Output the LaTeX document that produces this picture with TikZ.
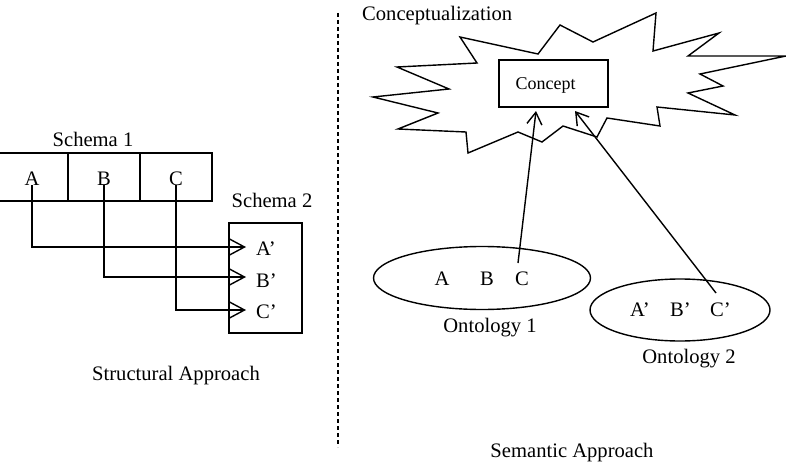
\documentclass[tikz,border=0pt]{standalone}
\usepackage{fontspec}
\setmainfont{Liberation Serif}
\usetikzlibrary{arrows.meta,shapes.geometric}
\tikzset{
  lbl/.style={inner sep=0pt, anchor=base, font=\fontsize{20.6}{24}\selectfont},
  lblw/.style={lbl, anchor=base west},
  ln/.style={line width=1.4pt, line join=miter},
  sarr/.style={ln, -{Straight Barb[length=15pt,width=16pt,line width=1.4pt]}},
  carr/.style={ln, -{Straight Barb[length=12pt,width=15pt,line width=1.4pt]}},
  boxn/.style={draw, line width=1.4pt, inner sep=0pt, rectangle},
  ell/.style={draw, line width=1.4pt, ellipse, inner sep=0pt},
}
\begin{document}
\begin{tikzpicture}[x=1pt,y=-1pt]
\useasboundingbox (0,0) rectangle (786,468);
% ---------- Structural approach ----------
\node[lbl] (s1) at (93,146) {Schema 1};
\draw[ln] (-3,153) rectangle (212,201);
\draw[ln] (68,153) -- (68,201);
\draw[ln] (140,153) -- (140,201);
\node[lbl] (A) at (32,185) {A};
\node[lbl] (B) at (104,185) {B};
\node[lbl] (C) at (176,185) {C};
\node[lbl] (s2) at (272,207) {Schema 2};
\node[boxn, minimum width=73pt, minimum height=110pt] (sch2) at (265.5,278) {};
\node[lblw] (Ap) at (256,255) {A’};
\node[lblw] (Bp) at (256,287) {B’};
\node[lblw] (Cp) at (256,318) {C’};
\coordinate (tA) at (246,247);
\coordinate (tB) at (246,277);
\coordinate (tC) at (246,310);
\draw[sarr] (A.base) |- (tA);
\draw[sarr] (B.base) |- (tB);
\draw[sarr] (C.base) |- (tC);
\node[lbl] (sa) at (176,380) {Structural Approach};
% ---------- divider ----------
\draw[line width=1.4pt, dash pattern=on 4pt off 3pt] (338,13) -- (338,447);
% ---------- Semantic approach ----------
\node[lblw] (conc) at (362,21) {Conceptualization};
\draw[ln] (373,97) -- (449,89) -- (397,67) -- (477,63) -- (460,37) -- (538,54)
  -- (560,25) -- (593,42) -- (656,13) -- (653,51) -- (719,33) -- (688,56)
  -- (786,56) -- (700,74) -- (723,86) -- (688,93) -- (735,115) -- (657,107)
  -- (660,126) -- (607,118) -- (597,137) -- (563,126) -- (542,142) -- (518,132)
  -- (468,153) -- (466,132) -- (398,129) -- (438,113) -- cycle;
\node[boxn, minimum width=109pt, minimum height=47pt] (cbox) at (553.5,83.5) {};
\node[lbl, font=\fontsize{18}{21}\selectfont] (ctxt) at (545.5,90) {Concept};
\node[ell, minimum width=217pt, minimum height=63pt] (ont1) at (482,278) {};
\node[ell, minimum width=180pt, minimum height=62pt] (ont2) at (680,310) {};
\node[lbl] (oA) at (442,285) {A};
\node[lbl] (oB) at (487,285) {B};
\node[lbl] (oC) at (522,285) {C};
\node[lblw] (oAp) at (630,316) {A’};
\node[lblw] (oBp) at (670,316) {B’};
\node[lblw] (oCp) at (710,316) {C’};
\node[lbl] (on1) at (490,332) {Ontology 1};
\node[lbl] (on2) at (689,363) {Ontology 2};
\coordinate (c1) at (518,263);
\coordinate (c2) at (716,293);
\coordinate (t1) at (536,111);
\coordinate (t2) at (575,111);
\draw[carr] (c1) -- (t1);
\draw[carr] (c2) -- (t2);
\node[lbl] (sem) at (572,457) {Semantic Approach};
\end{tikzpicture}
\end{document}
